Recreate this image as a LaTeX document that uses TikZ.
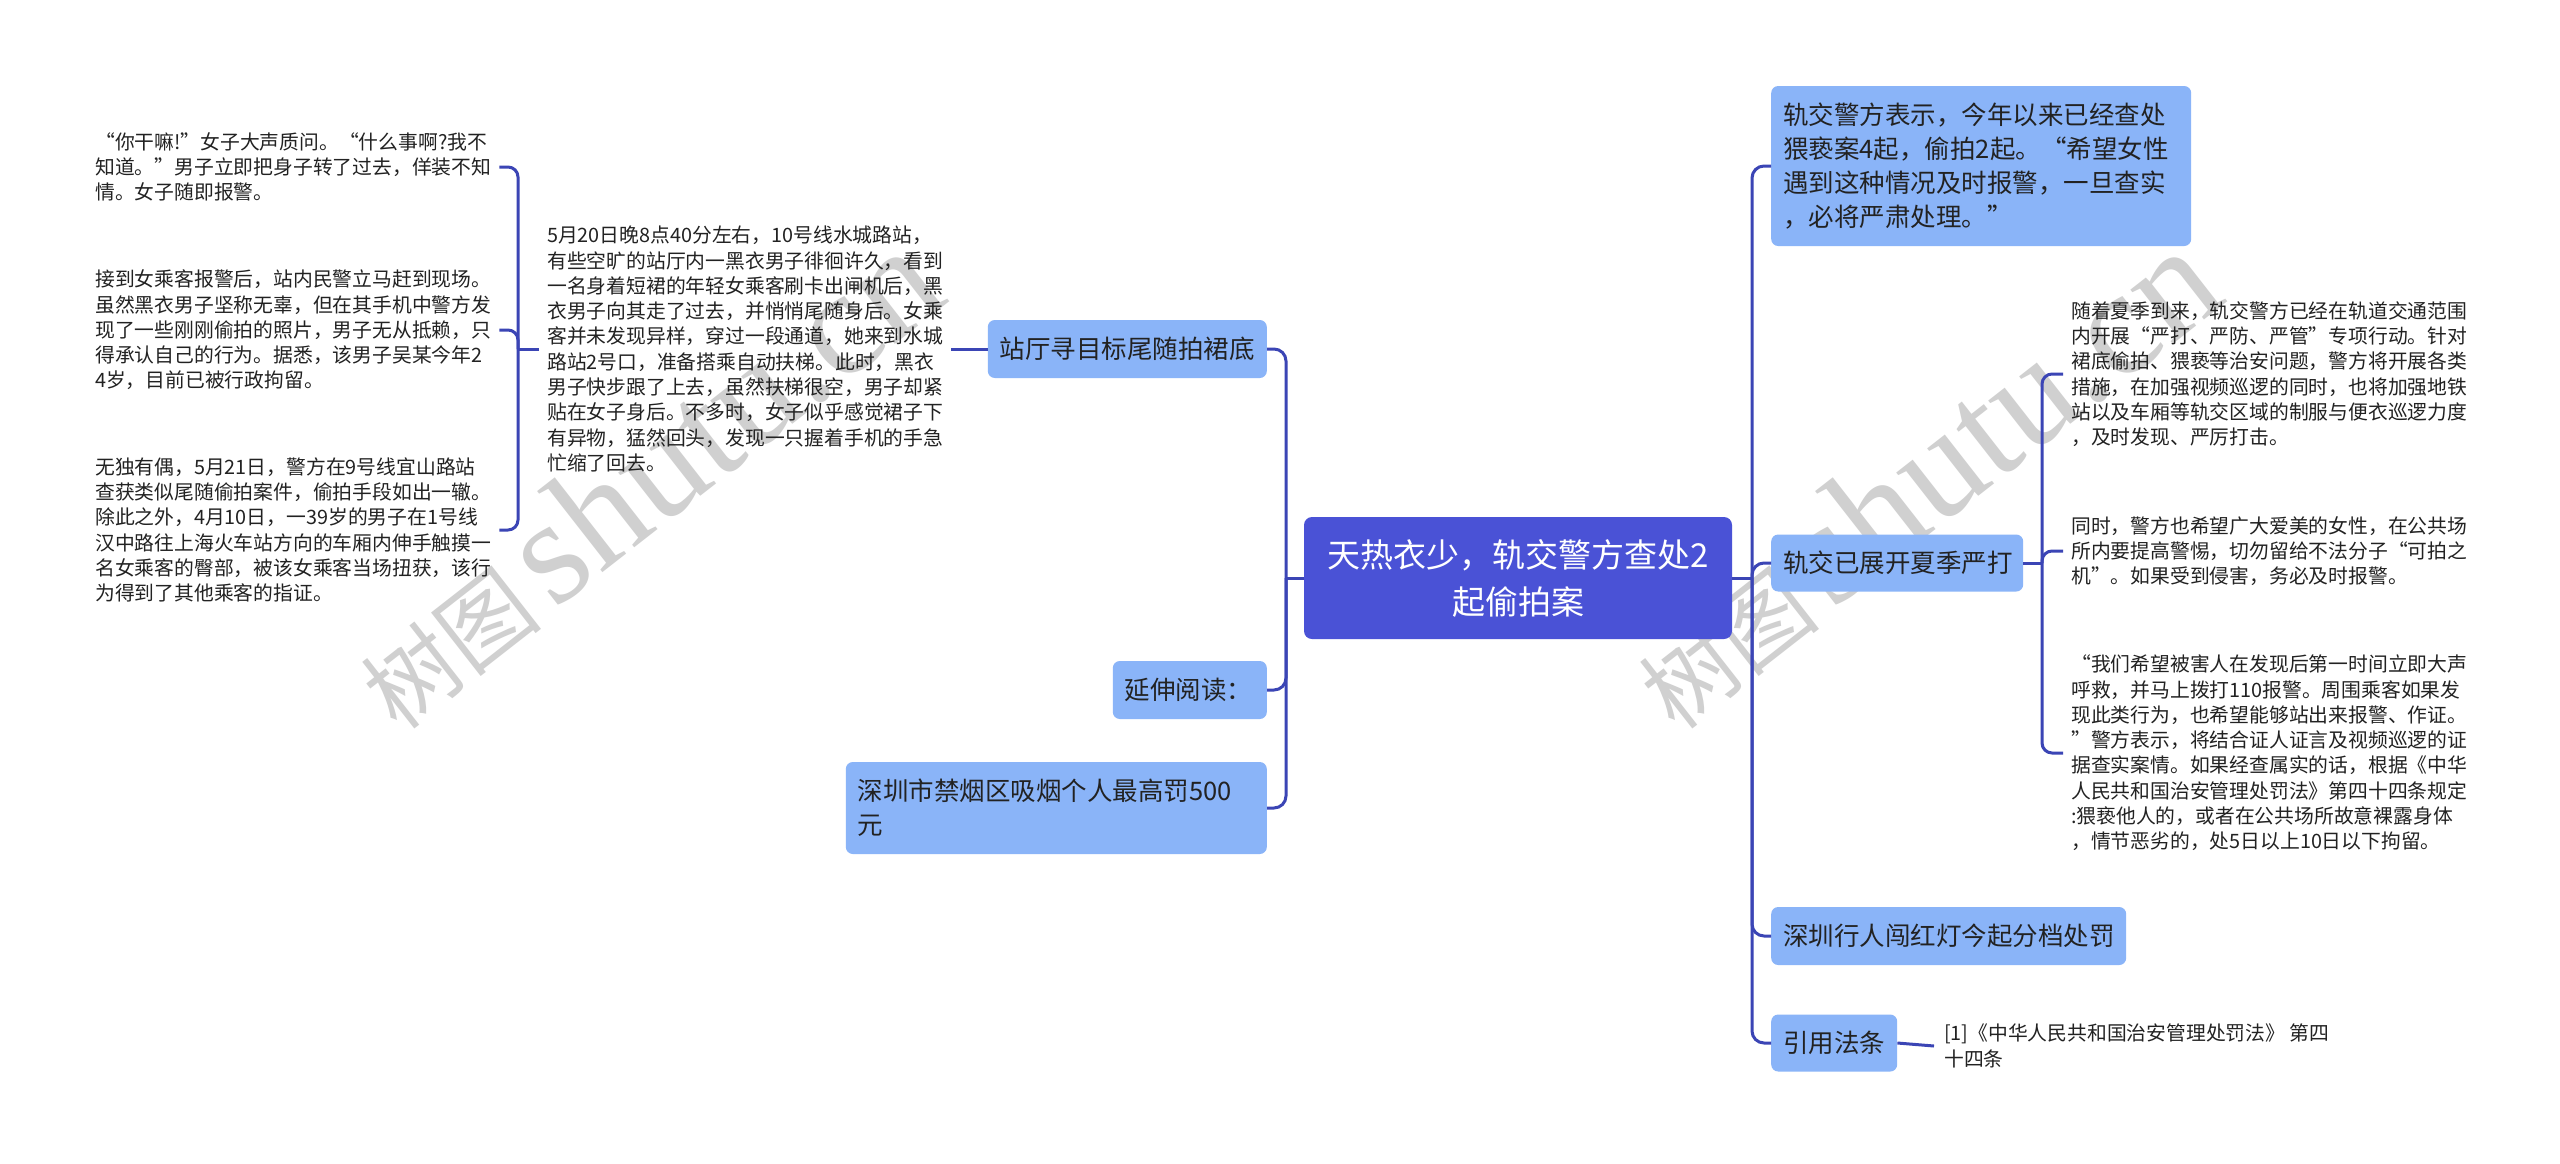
\documentclass[tikz,border=0pt]{standalone}
\usepackage{fontspec}
\setmainfont{Noto Sans CJK SC}
\newfontfamily\wmfont{Liberation Serif}
\definecolor{boxblue}{HTML}{8AB4F8}
\definecolor{rootblue}{HTML}{4A52D6}
\definecolor{linkblue}{HTML}{3B45B5}
\definecolor{txt}{HTML}{222222}
\definecolor{wmgray}{HTML}{D0D0D0}
\begin{document}
\begin{tikzpicture}[x=1pt,y=-1pt,
  conn/.style={draw=linkblue, line width=3pt, rounded corners=12pt},
  bconn/.style={draw=linkblue, line width=3pt, rounded corners=10pt},
  box/.style={rectangle, rounded corners=7pt, fill=boxblue, text=txt,
    font=\fontsize{25.5}{34}\selectfont, align=left, inner xsep=12pt, inner ysep=0pt},
  root/.style={rectangle, rounded corners=8pt, fill=rootblue, text=white,
    font=\fontsize{33}{47}\selectfont, align=center, inner sep=0pt},
  leaf/.style={text=txt, font=\fontsize{19.8}{25.3}\selectfont, align=left,
    inner xsep=8pt, inner ysep=0pt},
  wm/.style={text=wmgray, rotate=38, inner sep=0pt}]
\useasboundingbox[fill=white] (0,0) rectangle (2560,1163);

% watermarks
\node[wm] (wm1) at (645,478) {{\fontsize{92}{92}\selectfont 树图}\hspace{14pt}{\wmfont\fontsize{150}{150}\selectfont shutu.cn}};
\node[wm] (wm2) at (1923,478) {{\fontsize{92}{92}\selectfont 树图}\hspace{14pt}{\wmfont\fontsize{150}{150}\selectfont shutu.cn}};

% root
\node[root, minimum width=428pt, minimum height=122pt] (root) at (1518,578)
  {天热衣少，轨交警方查处2\\起偷拍案};

% left boxes
\node[box, anchor=east, minimum width=279pt, minimum height=58pt, text width=255pt] (zt) at (1267,349) {站厅寻目标尾随拍裙底};
\node[box, anchor=east, minimum width=154pt, minimum height=58pt, text width=130pt] (yy) at (1267,690) {延伸阅读：};
\node[box, anchor=east, minimum width=421pt, minimum height=92pt, text width=397pt] (sz) at (1267,808) {深圳市禁烟区吸烟个人最高罚500\\元};

% middle leaf
\node[leaf, anchor=west] (mid) at (539,349) {5月20日晚8点40分左右，10号线水城路站，\\
有些空旷的站厅内一黑衣男子徘徊许久，看到\\
一名身着短裙的年轻女乘客刷卡出闸机后，黑\\
衣男子向其走了过去，并悄悄尾随身后。女乘\\
客并未发现异样，穿过一段通道，她来到水城\\
路站2号口，准备搭乘自动扶梯。此时，黑衣\\
男子快步跟了上去，虽然扶梯很空，男子却紧\\
贴在女子身后。不多时，女子似乎感觉裙子下\\
有异物，猛然回头，发现一只握着手机的手急\\
忙缩了回去。};

% left leaves
\node[leaf, anchor=west] (l1) at (87,167) {“你干嘛!”女子大声质问。“什么事啊?我不\\
知道。”男子立即把身子转了过去，佯装不知\\
情。女子随即报警。};
\node[leaf, anchor=west] (l2) at (87,330) {接到女乘客报警后，站内民警立马赶到现场。\\
虽然黑衣男子坚称无辜，但在其手机中警方发\\
现了一些刚刚偷拍的照片，男子无从抵赖，只\\
得承认自己的行为。据悉，该男子吴某今年2\\
4岁，目前已被行政拘留。};
\node[leaf, anchor=west] (l3) at (87,530) {无独有偶，5月21日，警方在9号线宜山路站\\
查获类似尾随偷拍案件，偷拍手段如出一辙。\\
除此之外，4月10日，一39岁的男子在1号线\\
汉中路往上海火车站方向的车厢内伸手触摸一\\
名女乘客的臀部，被该女乘客当场扭获，该行\\
为得到了其他乘客的指证。};

% right boxes
\node[box, anchor=west, minimum width=420pt, minimum height=160pt, text width=396pt] (gj) at (1771,166) {轨交警方表示，今年以来已经查处\\猥亵案4起，偷拍2起。“希望女性\\遇到这种情况及时报警，一旦查实\\，必将严肃处理。”};
\node[box, anchor=west, minimum width=252pt, minimum height=57pt, text width=228pt] (xj) at (1771,563) {轨交已展开夏季严打};
\node[box, anchor=west, minimum width=355pt, minimum height=58pt, text width=331pt] (xr) at (1771,936) {深圳行人闯红灯今起分档处罚};
\node[box, anchor=west, minimum width=126pt, minimum height=57pt, text width=102pt] (yf) at (1771,1043) {引用法条};

% right leaves
\node[leaf, anchor=west] (ra) at (2063,374) {随着夏季到来，轨交警方已经在轨道交通范围\\
内开展“严打、严防、严管”专项行动。针对\\
裙底偷拍、猥亵等治安问题，警方将开展各类\\
措施，在加强视频巡逻的同时，也将加强地铁\\
站以及车厢等轨交区域的制服与便衣巡逻力度\\
，及时发现、严厉打击。};
\node[leaf, anchor=west] (rb) at (2063,551) {同时，警方也希望广大爱美的女性，在公共场\\
所内要提高警惕，切勿留给不法分子“可拍之\\
机”。如果受到侵害，务必及时报警。};
\node[leaf, anchor=west] (rc) at (2063,753) {“我们希望被害人在发现后第一时间立即大声\\
呼救，并马上拨打110报警。周围乘客如果发\\
现此类行为，也希望能够站出来报警、作证。\\
”警方表示，将结合证人证言及视频巡逻的证\\
据查实案情。如果经查属实的话，根据《中华\\
人民共和国治安管理处罚法》第四十四条规定\\
:猥亵他人的，或者在公共场所故意裸露身体\\
，情节恶劣的，处5日以上10日以下拘留。};
\node[leaf, anchor=west, inner xsep=10pt] (rf) at (1934,1046) {[1]《中华人民共和国治安管理处罚法》 第四\\十四条};

% junction coordinates
\coordinate (ltrunk) at (1286,578);
\coordinate (rtrunk) at (1752,578);
\coordinate (lbar) at (518,349);
\coordinate (rbar) at (2042,563);

% trunk connectors
\draw[conn] (root.west) -- (ltrunk);
\draw[conn] (ltrunk) |- (zt.east);
\draw[conn] (ltrunk) |- (yy.east);
\draw[conn] (ltrunk) |- (sz.east);
\draw[conn] (root.east) -- (rtrunk);
\draw[conn] (rtrunk) |- (gj.west);
\draw[conn] (rtrunk) |- (xj.west);
\draw[conn] (rtrunk) |- (xr.west);
\draw[conn] (rtrunk) |- (yf.west);

% left branch
\draw[conn] (zt.west) -- (mid.east);
\draw[conn] (mid.west) -- (lbar);
\draw[bconn] (lbar) |- (l1.east);
\draw[bconn] (lbar) |- (l2.east);
\draw[bconn] (lbar) |- (l3.east);

% right branch
\draw[conn] (xj.east) -- (rbar);
\draw[bconn] (rbar) |- (ra.west);
\draw[bconn] (rbar) |- (rb.west);
\draw[bconn] (rbar) |- (rc.west);
\draw[conn] (yf.east) -- (rf.west);
\end{tikzpicture}
\end{document}
